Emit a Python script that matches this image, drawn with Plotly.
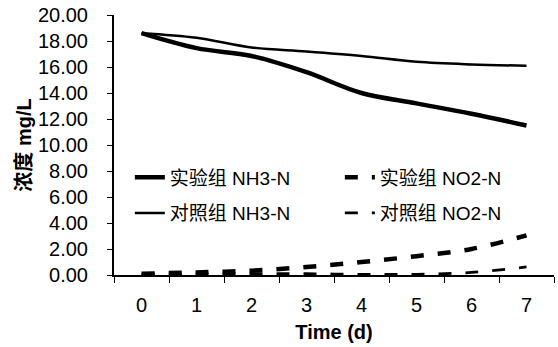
import plotly.graph_objects as go

days = ["0", "1", "2", "3", "4", "5", "6", "7"]
exp_nh3 = [18.6, 17.45, 16.85, 15.6, 14.0, 13.2, 12.4, 11.5]
ctl_nh3 = [18.6, 18.25, 17.5, 17.2, 16.85, 16.4, 16.2, 16.1]
exp_no2 = [0.1, 0.2, 0.33, 0.62, 1.0, 1.45, 2.0, 3.05]
ctl_no2 = [0.05, 0.08, 0.1, 0.1, 0.05, 0.05, 0.2, 0.62]
y_ticks = [0, 2, 4, 6, 8, 10, 12, 14, 16, 18, 20]

FONT = "Liberation Sans, Arial, Noto Sans CJK SC"
fig = go.Figure()
fig.add_trace(go.Scatter(x=days, y=exp_nh3, name="实验组 NH3-N", mode="lines",
                         line=dict(color="black", width=4.5, shape="spline"), legend="legend"))
fig.add_trace(go.Scatter(x=days, y=exp_no2, name="实验组 NO2-N", mode="lines",
                         line=dict(color="black", width=4.5, dash="13px,14px", shape="spline"), legend="legend"))
fig.add_trace(go.Scatter(x=days, y=ctl_nh3, name="对照组 NH3-N", mode="lines", yaxis="y2",
                         line=dict(color="black", width=2.5, shape="spline"), legend="legend2"))
fig.add_trace(go.Scatter(x=days, y=ctl_no2, name="对照组 NO2-N", mode="lines", yaxis="y2",
                         line=dict(color="black", width=2.8, dash="13px,14px", shape="spline"), legend="legend2"))

legend_common = dict(orientation="h", xanchor="left", yanchor="middle", x=0.036,
                     bgcolor="rgba(0,0,0,0)", entrywidth=165,
                     font=dict(family=FONT, size=19, color="black"))
fig.update_layout(
    width=558, height=347,
    margin=dict(l=114, r=4, t=13, b=72),
    paper_bgcolor="white", plot_bgcolor="white",
    font=dict(family=FONT, color="black"),
    legend=dict(y=0.375, **legend_common),
    legend2=dict(y=0.238, **legend_common),
    xaxis=dict(type="category", tickson="boundaries", ticks="outside", ticklen=6,
               tickcolor="black", showline=True, linecolor="black", linewidth=1.5,
               showgrid=False, range=[-0.5, 7.5], tickfont=dict(size=20),
               ticklabelstandoff=11,
               title=dict(text="<b>Time (d)</b>", font=dict(size=20), standoff=10)),
    # main y axis: line and short black ticks
    yaxis=dict(range=[0, 20], tickvals=y_ticks, ticks="outside", ticklen=5,
               tickcolor="black", showline=True, linecolor="black", linewidth=1.5,
               showgrid=False, zeroline=False, showticklabels=False),
    # overlay y axis (same scale): tick labels held away from the axis by invisible long ticks
    yaxis2=dict(range=[0, 20], tickvals=y_ticks, tickformat=".2f", overlaying="y",
                side="left", anchor="x", ticks="outside", ticklen=21,
                tickcolor="rgba(0,0,0,0)", showline=False, showgrid=False, zeroline=False,
                tickfont=dict(size=20),
                title=dict(text="<b>浓度 mg/L</b>", font=dict(size=20), standoff=0)),
)
fig.write_html("out.html")
